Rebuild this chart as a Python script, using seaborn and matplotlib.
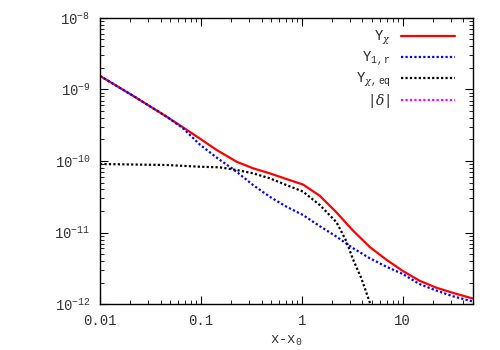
import pandas as pd
import seaborn as sns
import matplotlib.pyplot as plt
from matplotlib.lines import Line2D
from matplotlib.ticker import LogLocator, NullFormatter, FixedLocator, FixedFormatter

# values (log-log)
x_vals = [0.01, 0.0214, 0.0457, 0.0668, 0.0977, 0.143, 0.226, 0.330, 0.482, 0.706, 1.03,
          1.51, 2.21, 3.22, 4.71, 6.90, 10.1, 14.7, 21.6, 31.5, 49.7]
y_chi = [1.545e-9, 8.11e-10, 4.17e-10, 2.94e-10, 2.06e-10, 1.43e-10, 9.78e-11, 7.90e-11,
         6.73e-11, 5.60e-11, 4.69e-11, 3.27e-11, 1.92e-11, 1.07e-11, 6.33e-12, 4.19e-12,
         2.90e-12, 2.13e-12, 1.70e-12, 1.44e-12, 1.20e-12]
y_1r = [1.545e-9, 8.11e-10, 4.17e-10, 2.85e-10, 1.70e-10, 1.12e-10, 7.08e-11, 4.61e-11,
        3.17e-11, 2.30e-11, 1.76e-11, 1.23e-11, 8.79e-12, 6.07e-12, 4.40e-12, 3.34e-12,
        2.63e-12, 1.91e-12, 1.55e-12, 1.29e-12, 1.09e-12]
x_eq = [0.01, 0.0457, 0.0977, 0.154, 0.226, 0.330, 0.482, 0.706, 1.03, 1.51, 2.21, 2.77,
        3.22, 3.90, 4.71, 5.3]
y_eq = [9.08e-11, 8.79e-11, 8.32e-11, 8.16e-11, 7.48e-11, 6.73e-11, 5.73e-11, 4.61e-11,
        3.74e-11, 2.43e-11, 1.40e-11, 7.60e-12, 4.26e-12, 2.31e-12, 1.08e-12, 7e-13]

x_ticks = [0.01, 0.1, 1, 10]
x_ticklabels = ["0.01", "0.1", "1", "10"]

series = ["chi", "1r", "eq"]
labels = {"chi": r"Y$_{\chi}$", "1r": r"Y$_{\mathdefault{1,r}}$", "eq": r"Y$_{\chi,\mathdefault{eq}}$"}
colors = {"chi": "#ff0000", "1r": "#0000ff", "eq": "#000000"}
dashes = {"chi": "", "1r": (1, 1), "eq": (1, 1)}

df = pd.concat([
    pd.DataFrame({"x": x_vals, "y": y_chi, "s": "chi"}),
    pd.DataFrame({"x": x_vals, "y": y_1r, "s": "1r"}),
    pd.DataFrame({"x": x_eq, "y": y_eq, "s": "eq"}),
])

sns.set_theme(style="ticks")
plt.rcParams['font.family'] = ['Liberation Mono', 'DejaVu Sans']
plt.rcParams['mathtext.fontset'] = 'custom'
plt.rcParams['mathtext.rm'] = 'Liberation Mono'
plt.rcParams['mathtext.it'] = 'DejaVu Serif:italic'
plt.rcParams['axes.unicode_minus'] = False

fig = plt.figure(figsize=(5, 3.5), dpi=100)
ax = fig.add_axes([0.2, 0.131, 0.746, 0.818])
sns.lineplot(data=df, x="x", y="y", hue="s", style="s", palette=colors, dashes=dashes,
             estimator=None, sort=True, linewidth=1.6, legend=False, ax=ax)
ax.set_xscale("log")
ax.set_yscale("log")
ax.set_xlim(0.01, 50)
ax.set_ylim(1e-12, 1e-8)

ax.xaxis.set_major_locator(FixedLocator(x_ticks))
ax.xaxis.set_major_formatter(FixedFormatter(x_ticklabels))
ax.xaxis.set_minor_locator(LogLocator(base=10, subs=range(2, 10)))
ax.xaxis.set_minor_formatter(NullFormatter())
ax.yaxis.set_major_locator(LogLocator(base=10, numticks=10))
ax.yaxis.set_minor_locator(LogLocator(base=10, subs=range(2, 10), numticks=10))
ax.yaxis.set_minor_formatter(NullFormatter())

ax.tick_params(which="both", direction="in", top=True, right=True, color="black",
               labelsize=10, labelcolor="#333333")
ax.tick_params(which="major", length=6, width=0.8, pad=7)
ax.tick_params(which="minor", length=3, width=0.6)
for sp in ax.spines.values():
    sp.set_color("black")
    sp.set_linewidth(1.0)

ax.set_xlabel(r"x-x$_{\mathdefault{0}}$", fontsize=10, color="#333333", labelpad=4)
ax.set_ylabel("")

handles = [Line2D([], [], color=colors[s], linewidth=1.6,
                  linestyle="-" if dashes[s] == "" else (0, dashes[s])) for s in series]
handles.append(Line2D([], [], color="#ff00ff", linewidth=1.6, linestyle=(0, (1, 1))))
leg_labels = [labels[s] for s in series] + [r"|$\delta$|"]
ax.legend(handles, leg_labels, loc="upper right", bbox_to_anchor=(0.981, 1.0),
          frameon=False, markerfirst=False, fontsize=10, handlelength=3.9,
          handletextpad=0.7, labelspacing=0.2, borderaxespad=0.4)

fig.savefig("out.png", dpi=100)
